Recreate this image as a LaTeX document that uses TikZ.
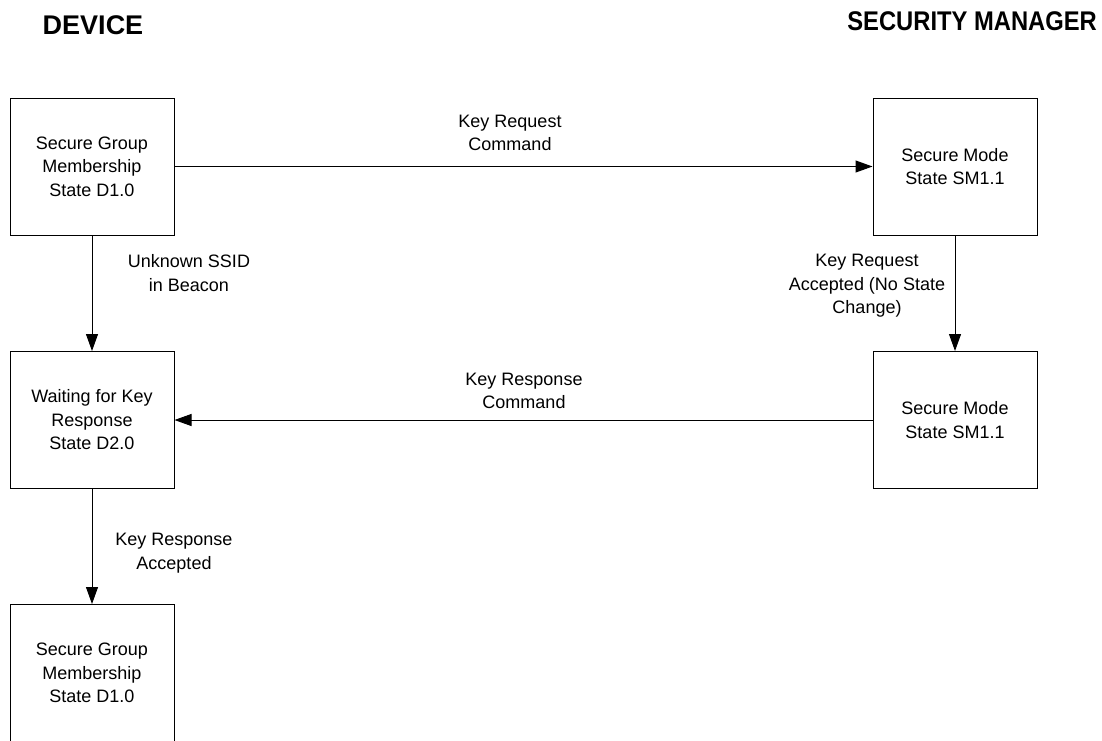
\documentclass[tikz,border=0pt]{standalone}
\usepackage{fontspec}
\setmainfont{Liberation Sans}
\usetikzlibrary{arrows.meta}

\begin{document}
\begin{tikzpicture}[x=1pt, y=-1pt,
  statebox/.style={draw=black, line width=1pt, minimum width=164pt, minimum height=137pt,
    inner sep=0pt, align=center, font=\fontsize{18}{23.5}\selectfont},
  msg/.style={align=center, font=\fontsize{18}{23.5}\selectfont, inner sep=0pt},
  hdr/.style={font=\bfseries\fontsize{27}{30}\selectfont, inner sep=0pt},
  flow/.style={line width=1pt, -{Triangle[length=17pt, width=12pt]}}
]
\useasboundingbox (0,0) rectangle (1102,740);
\clip (0,0) rectangle (1102,740);

% column headings
\node[hdr, anchor=base] (hdev) at (93,34) {DEVICE};
\node[hdr, anchor=base east, xscale=0.88] (hsm) at (1097,30) {SECURITY MANAGER};

% device states
\node[statebox] (d10) at (92,166.5) {Secure Group\\Membership\\State D1.0};
\node[statebox] (d20) at (92,420) {Waiting for Key\\Response\\State D2.0};
\node[statebox] (d10b) at (92,673) {Secure Group\\Membership\\State D1.0};

% security manager states
\node[statebox] (sm1) at (955,166.5) {Secure Mode\\State SM1.1};
\node[statebox] (sm2) at (955,420) {Secure Mode\\State SM1.1};

% messages and transitions
\draw[flow] (d10.east) -- (sm1.west);
\draw[flow] (sm2.west) -- (d20.east);
\draw[flow] (d10.south) -- (d20.north);
\draw[flow] (sm1.south) -- (sm2.north);
\draw[flow] (d20.south) -- (d10b.north);

\node[msg] (lreq) at (510,133) {Key Request\\Command};
\node[msg] (lresp) at (524,391) {Key Response\\Command};
\node[msg] (lssid) at (189,273) {Unknown SSID\\in Beacon};
\node[msg] (lacc) at (867,286) {Key Request\\Accepted (No State\\Change)};
\node[msg] (lrespacc) at (174,553) {Key Response\\Accepted};
\end{tikzpicture}
\end{document}
